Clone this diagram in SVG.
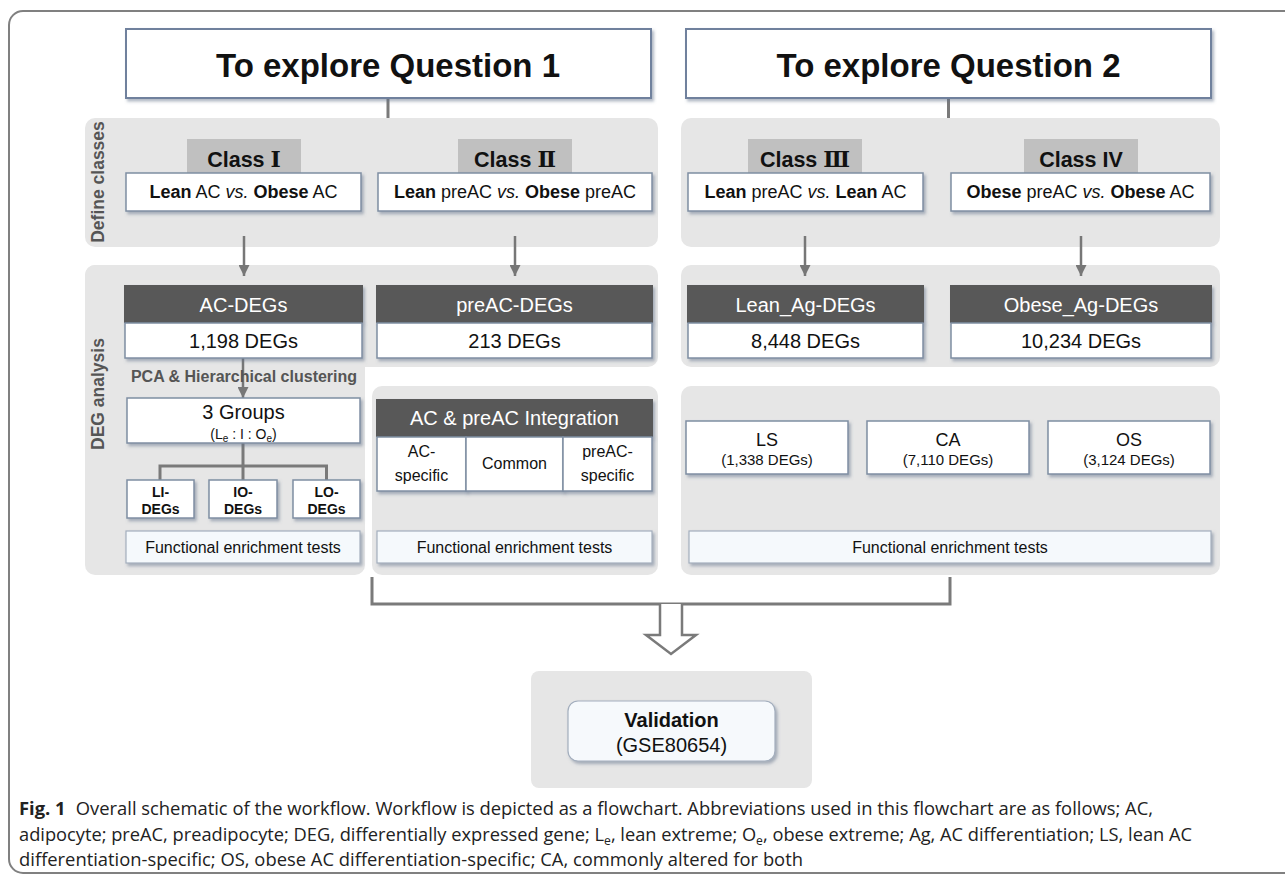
<svg xmlns="http://www.w3.org/2000/svg" width="1285" height="879" viewBox="0 0 1285 879">
<defs>
<filter id="sh" x="-10%" y="-20%" width="125%" height="150%">
<feDropShadow dx="2" dy="2.5" stdDeviation="1.6" flood-color="#5f6f88" flood-opacity="0.5"/>
</filter>
<marker id="ah" viewBox="0 0 10 10" refX="10" refY="5" markerWidth="11" markerHeight="11" markerUnits="userSpaceOnUse" orient="auto">
<path d="M0,0 L10,5 L0,10 Z" fill="#777"/>
</marker>
</defs>
<style>
text{font-family:"Liberation Sans",Arial,sans-serif;fill:#111}
.panel{fill:#e6e6e6}
.tab{fill:#c0c0c0}
.wb{fill:#fff;stroke:#7f8ea3;stroke-width:1.5;filter:url(#sh)}
.hb{fill:#fff;stroke:#6f819d;stroke-width:2;filter:url(#sh)}
.dk{fill:#595959;filter:url(#sh)}
.fe{fill:#f5f9fc;stroke:#a3aebd;stroke-width:1.2;filter:url(#sh)}
.vb{fill:#f6f9fc;stroke:#a3aebd;stroke-width:1.2;filter:url(#sh)}
.ttl{font-size:33px;font-weight:bold;text-anchor:middle}
.cls{font-size:21.5px;font-weight:bold;text-anchor:middle}
.num{font-family:"DejaVu Serif","Noto Sans CJK KR",serif;font-weight:bold;font-size:22px}
.cmp{font-size:18px;text-anchor:middle}
.hd{font-size:20px;fill:#fff;text-anchor:middle}
.n20{font-size:20px;text-anchor:middle}
.b14{font-size:14px;font-weight:bold;text-anchor:middle}
.f16{font-size:16px;text-anchor:middle}
.n18{font-size:18px;text-anchor:middle}
.s15{font-size:15px;text-anchor:middle}
.side{font-size:17.5px;font-weight:bold;fill:#555;text-anchor:middle}
.pca{font-size:16px;font-weight:bold;fill:#555;text-anchor:middle}
.conn{fill:none;stroke:#7a7a7a;stroke-width:3}
.arr{fill:none;stroke:#777;stroke-width:2.5}
.cap{font-family:"Open Sans","Noto Sans",sans-serif;font-size:18px;fill:#222}
</style>

<rect id="frame" x="9" y="11" width="1292" height="862" rx="14" fill="#fff" stroke="#808080" stroke-width="2"/>

<g id="panels">
<rect class="panel" x="85" y="118" width="573" height="129" rx="10"/>
<rect class="panel" x="681" y="118" width="539" height="129" rx="10"/>
<rect class="panel" x="85" y="265" width="573" height="102" rx="10"/>
<rect class="panel" x="85" y="265" width="280" height="310" rx="10"/>
<rect class="panel" x="681" y="265" width="539" height="102" rx="10"/>
<rect class="panel" x="372" y="386" width="286" height="189" rx="10"/>
<rect class="panel" x="681" y="386" width="539" height="189" rx="10"/>
<rect class="panel" x="531" y="671" width="281" height="117" rx="8"/>
<text class="side" transform="translate(104,182) rotate(-90)">Define classes</text>
<text class="side" transform="translate(104,394) rotate(-90)">DEG analysis</text>
</g>

<g id="connectors">
<path class="conn" d="M388,98V118M948.5,98V118"/>
<path class="arr" marker-end="url(#ah)" d="M244,236V276"/>
<path class="arr" marker-end="url(#ah)" d="M515,236V276"/>
<path class="arr" marker-end="url(#ah)" d="M805,236V276"/>
<path class="arr" marker-end="url(#ah)" d="M1081,236V276"/>
<path class="arr" marker-end="url(#ah)" d="M243,358V398"/>
<path class="conn" d="M243,443V480M160,480V466H326.5V480"/>
<path class="conn" d="M372,577V604H950V577"/>
<path d="M660,604V635H646L671,654L696,635H682V604" fill="#fff" stroke="#7a7a7a" stroke-width="2.5" stroke-linejoin="miter"/>
</g>

<g id="q1"><rect class="hb" x="126" y="29" width="525" height="69"/><text class="ttl" x="388" y="77">To explore Question 1</text></g>
<g id="q2"><rect class="hb" x="686" y="29" width="525" height="69"/><text class="ttl" x="948.5" y="77">To explore Question 2</text></g>

<g id="class1">
<rect class="tab" x="187" y="139" width="114" height="35"/>
<text class="cls" x="244" y="167">Class <tspan class="num">Ⅰ</tspan></text>
<rect class="wb" x="126" y="173" width="235" height="38"/>
<text class="cmp" x="243.5" y="198"><tspan font-weight="bold">Lean</tspan> AC <tspan font-style="italic">vs.</tspan> <tspan font-weight="bold">Obese</tspan> AC</text>
</g>
<g id="class2">
<rect class="tab" x="458" y="139" width="114" height="35"/>
<text class="cls" x="515" y="167">Class <tspan class="num">Ⅱ</tspan></text>
<rect class="wb" x="378" y="173" width="274" height="38"/>
<text class="cmp" x="515" y="198"><tspan font-weight="bold">Lean</tspan> preAC <tspan font-style="italic">vs.</tspan> <tspan font-weight="bold">Obese</tspan> preAC</text>
</g>
<g id="class3">
<rect class="tab" x="748" y="139" width="114" height="35"/>
<text class="cls" x="805" y="167">Class <tspan class="num">Ⅲ</tspan></text>
<rect class="wb" x="688" y="173" width="235" height="38"/>
<text class="cmp" x="805.5" y="198"><tspan font-weight="bold">Lean</tspan> preAC <tspan font-style="italic">vs.</tspan> <tspan font-weight="bold">Lean</tspan> AC</text>
</g>
<g id="class4">
<rect class="tab" x="1024" y="139" width="114" height="35"/>
<text class="cls" x="1081" y="167">Class IV</text>
<rect class="wb" x="951" y="173" width="259" height="38"/>
<text class="cmp" x="1080.5" y="198"><tspan font-weight="bold">Obese</tspan> preAC <tspan font-style="italic">vs.</tspan> <tspan font-weight="bold">Obese</tspan> AC</text>
</g>

<g id="ac-degs">
<rect class="dk" x="124" y="285" width="239" height="38"/>
<text class="hd" x="243.5" y="312">AC-DEGs</text>
<rect class="wb" x="125" y="323" width="237" height="35"/>
<text class="n20" x="243.5" y="348">1,198 DEGs</text>
</g>
<text id="pca" class="pca" x="244" y="382">PCA &amp; Hierarchical clustering</text>
<g id="groups3">
<rect class="wb" x="127" y="398" width="233" height="45"/>
<text class="n20" x="243.5" y="419">3 Groups</text>
<text x="243.5" y="439" font-size="14" text-anchor="middle">(L<tspan font-size="10" dy="3">e</tspan><tspan dy="-3"> : I : O</tspan><tspan font-size="10" dy="3">e</tspan><tspan dy="-3">)</tspan></text>
</g>
<g id="li"><rect class="wb" x="127" y="480" width="67" height="38"/><text class="b14" x="160.5" y="497">LI-</text><text class="b14" x="160.5" y="514">DEGs</text></g>
<g id="io"><rect class="wb" x="209" y="480" width="68" height="38"/><text class="b14" x="243" y="497">IO-</text><text class="b14" x="243" y="514">DEGs</text></g>
<g id="lo"><rect class="wb" x="293" y="480" width="67" height="38"/><text class="b14" x="326.5" y="497">LO-</text><text class="b14" x="326.5" y="514">DEGs</text></g>
<g id="fe1"><rect class="fe" x="126" y="531" width="234" height="32"/><text class="f16" x="243" y="553">Functional enrichment tests</text></g>

<g id="preac-degs">
<rect class="dk" x="376" y="285" width="277" height="38"/>
<text class="hd" x="514.5" y="312">preAC-DEGs</text>
<rect class="wb" x="377" y="323" width="275" height="35"/>
<text class="n20" x="514.5" y="348">213 DEGs</text>
</g>
<g id="integration">
<rect class="dk" x="376" y="399" width="277" height="38"/>
<text class="hd" x="514.5" y="425">AC &amp; preAC Integration</text>
<rect class="wb" x="377" y="437" width="89" height="54"/>
<rect class="wb" x="466" y="437" width="97" height="54"/>
<rect class="wb" x="563" y="437" width="89" height="54"/>
<text class="f16" x="421.5" y="457">AC-</text><text class="f16" x="421.5" y="481">specific</text>
<text class="f16" x="514.5" y="469">Common</text>
<text class="f16" x="607.5" y="457">preAC-</text><text class="f16" x="607.5" y="481">specific</text>
</g>
<g id="fe2"><rect class="fe" x="377" y="531" width="275" height="32"/><text class="f16" x="514.5" y="553">Functional enrichment tests</text></g>

<g id="lean-ag">
<rect class="dk" x="687" y="285" width="237" height="38"/>
<text class="hd" x="805.5" y="312">Lean_Ag-DEGs</text>
<rect class="wb" x="688" y="323" width="235" height="35"/>
<text class="n20" x="805.5" y="348">8,448 DEGs</text>
</g>
<g id="obese-ag">
<rect class="dk" x="950" y="285" width="262" height="38"/>
<text class="hd" x="1081" y="312">Obese_Ag-DEGs</text>
<rect class="wb" x="951" y="323" width="260" height="35"/>
<text class="n20" x="1081" y="348">10,234 DEGs</text>
</g>
<g id="ls"><rect class="wb" x="686" y="421" width="162" height="53"/><text class="n18" x="767" y="446">LS</text><text class="s15" x="767" y="465">(1,338 DEGs)</text></g>
<g id="ca"><rect class="wb" x="867" y="421" width="162" height="53"/><text class="n18" x="948" y="446">CA</text><text class="s15" x="948" y="465">(7,110 DEGs)</text></g>
<g id="os"><rect class="wb" x="1048" y="421" width="162" height="53"/><text class="n18" x="1129" y="446">OS</text><text class="s15" x="1129" y="465">(3,124 DEGs)</text></g>
<g id="fe3"><rect class="fe" x="689" y="531" width="522" height="32"/><text class="f16" x="950" y="553">Functional enrichment tests</text></g>

<g id="validation">
<rect class="vb" x="568" y="701" width="207" height="60" rx="10"/>
<text x="671.5" y="727" font-size="20" font-weight="bold" text-anchor="middle">Validation</text>
<text x="671.5" y="752" font-size="20" text-anchor="middle">(GSE80654)</text>
</g>

<g id="caption">
<text class="cap" x="19" y="815" textLength="1134" lengthAdjust="spacingAndGlyphs"><tspan font-weight="bold">Fig. 1</tspan><tspan dx="10">Overall schematic of the workflow. Workflow is depicted as a flowchart. Abbreviations used in this flowchart are as follows; AC,</tspan></text>
<text class="cap" x="19" y="841" textLength="1173" lengthAdjust="spacingAndGlyphs">adipocyte; preAC, preadipocyte; DEG, differentially expressed gene; L<tspan font-size="12" dy="4">e</tspan><tspan dy="-4">, lean extreme; O</tspan><tspan font-size="12" dy="4">e</tspan><tspan dy="-4">, obese extreme; Ag, AC differentiation; LS, lean AC</tspan></text>
<text class="cap" x="19" y="866" textLength="784" lengthAdjust="spacingAndGlyphs">differentiation-specific; OS, obese AC differentiation-specific; CA, commonly altered for both</text>
</g>
</svg>
